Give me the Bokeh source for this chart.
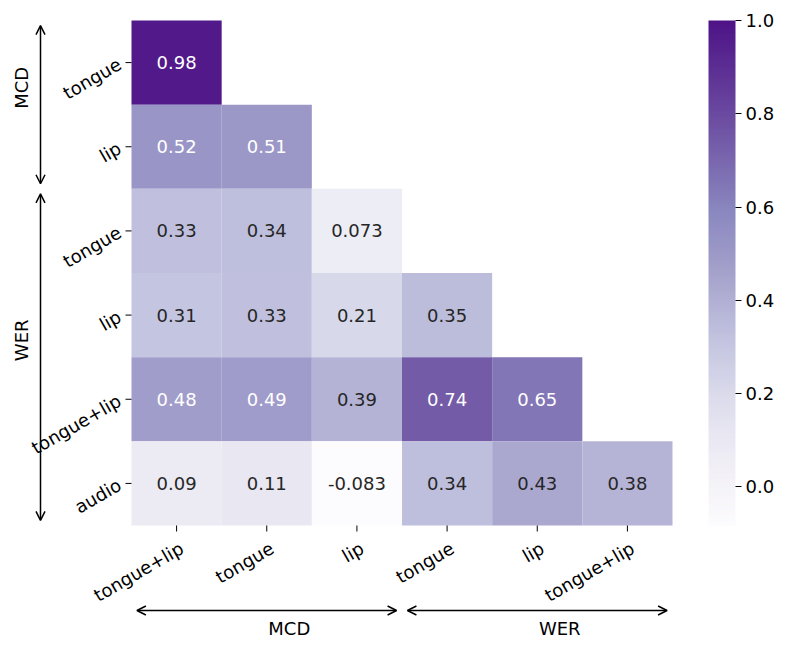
import math
from bokeh.plotting import figure
from bokeh.models import (ColumnDataSource, LinearColorMapper, ColorBar, FixedTicker,
                          PrintfTickFormatter, Range1d, Arrow, OpenHead)
from bokeh.palettes import Purples256
from bokeh.core.properties import value
from bokeh.embed import file_html
from bokeh.resources import INLINE

# ---- data ----
row_labels = ["tongue", "lip", "tongue", "lip", "tongue+lip", "audio"]
col_labels = ["tongue+lip", "tongue", "lip", "tongue", "lip", "tongue+lip"]
values = [
    [0.98],
    [0.52, 0.51],
    [0.33, 0.34, 0.073],
    [0.31, 0.33, 0.21, 0.35],
    [0.48, 0.49, 0.39, 0.74, 0.65],
    [0.09, 0.11, -0.083, 0.34, 0.43, 0.38],
]
row_groups = [("MCD", 0, 2), ("WER", 2, 6)]
col_groups = [("MCD", 0, 3), ("WER", 3, 6)]
cbar_ticks = [0.0, 0.2, 0.4, 0.6, 0.8, 1.0]
vmin, vmax = -0.083, 1.0

# ---- layout (pixels) ----
W, H = 789, 653
HM_L, HM_R, HM_T, HM_B = 131, 672, 20, 525
NC, NR = len(col_labels), len(row_labels)
CW = (HM_R - HM_L) / NC
CH = (HM_B - HM_T) / NR
TICK = 6
PAD = 6
FONT = "DejaVu Sans"
FS = "18px"


def dx(px):
    return px / CW


def dy(px):
    return px / CH


xs, ys, vs, txt, tcol = [], [], [], [], []
for r, row in enumerate(values):
    for c, v in enumerate(row):
        xs.append(c + 0.5)
        ys.append(r + 0.5)
        vs.append(v)
        txt.append(format(v, ".2g"))
        tcol.append("white" if v > 0.45 else "#262626")
src = ColumnDataSource(dict(x=xs, y=ys, v=vs, t=txt, tc=tcol))

palette = list(reversed(Purples256))
mapper = LinearColorMapper(palette=palette, low=vmin, high=vmax)

p = figure(width=W, height=H, output_backend="svg", toolbar_location=None,
           x_range=Range1d(dx(-HM_L), dx(W - HM_L)),
           y_range=Range1d(dy(H - HM_T), dy(-HM_T)),
           x_axis_location=None, y_axis_location=None, min_border=0)
p.background_fill_color = "white"
p.border_fill_color = "white"
p.outline_line_color = None
p.grid.visible = False

p.rect(x="x", y="y", width=1, height=1, source=src,
       fill_color={"field": "v", "transform": mapper}, fill_alpha=0.92, line_color=None)
p.text(x="x", y="y", text="t", source=src, text_color="tc",
       text_align="center", text_baseline="middle",
       text_font=value(FONT), text_font_size=FS)

# ---- tick marks and tick labels ----
xt = [i + 0.5 for i in range(NC)]
yt = [i + 0.5 for i in range(NR)]
p.segment(x0=xt, y0=[NR] * NC, x1=xt, y1=[NR + dy(TICK)] * NC,
          line_color="black", line_width=1)
p.segment(x0=[0] * NR, y0=yt, x1=[-dx(TICK)] * NR, y1=yt,
          line_color="black", line_width=1)
p.text(x=xt, y=[NR + dy(TICK + PAD)] * NC, text=col_labels, angle=math.pi / 6,
       text_align="right", text_baseline="top", text_color="black",
       text_font=value(FONT), text_font_size=FS)
p.text(x=[-dx(TICK + PAD)] * NR, y=yt, text=row_labels, angle=math.pi / 6,
       text_align="right", text_baseline="middle", text_color="black",
       text_font=value(FONT), text_font_size=FS)

# ---- group arrows and labels ----
inset = 0.06
ax_x = dx(40 - HM_L)
ax_y = NR + dy(610 - HM_B)
for name, a, b in row_groups:
    p.add_layout(Arrow(x_start=ax_x, y_start=a + inset, x_end=ax_x, y_end=b - inset,
                       line_width=1.5, line_color="black",
                       start=OpenHead(size=9, line_width=1.5, line_color="black"),
                       end=OpenHead(size=9, line_width=1.5, line_color="black")))
p.text(x=[dx(21 - HM_L)] * len(row_groups),
       y=[(a + b) / 2 - 0.2 for _, a, b in row_groups],
       text=[g[0] for g in row_groups], angle=math.pi / 2,
       text_align="center", text_baseline="middle", text_color="black",
       text_font=value(FONT), text_font_size=FS)
for name, a, b in col_groups:
    p.add_layout(Arrow(x_start=a + inset, y_start=ax_y, x_end=b - inset, y_end=ax_y,
                       line_width=1.5, line_color="black",
                       start=OpenHead(size=9, line_width=1.5, line_color="black"),
                       end=OpenHead(size=9, line_width=1.5, line_color="black")))
p.text(x=[(a + b) / 2 + 0.25 for _, a, b in col_groups],
       y=[NR + dy(628 - HM_B)] * len(col_groups),
       text=[g[0] for g in col_groups],
       text_align="center", text_baseline="middle", text_color="black",
       text_font=value(FONT), text_font_size=FS)

# ---- colour bar ----
cb = ColorBar(color_mapper=mapper, width=27, height=HM_B - HM_T, padding=0, margin=0,
              ticker=FixedTicker(ticks=cbar_ticks),
              formatter=PrintfTickFormatter(format="%.1f"),
              major_tick_out=6, major_tick_in=0, major_tick_line_color="black",
              minor_tick_line_color=None, bar_line_color=None, scale_alpha=0.92,
              major_label_text_font=FONT, major_label_text_font_size=FS,
              major_label_text_color="black", label_standoff=4,
              background_fill_color=None, border_line_color=None,
              location=(708, H - HM_B))
p.add_layout(cb, "center")

open("out.html", "w").write(file_html(p, INLINE))
